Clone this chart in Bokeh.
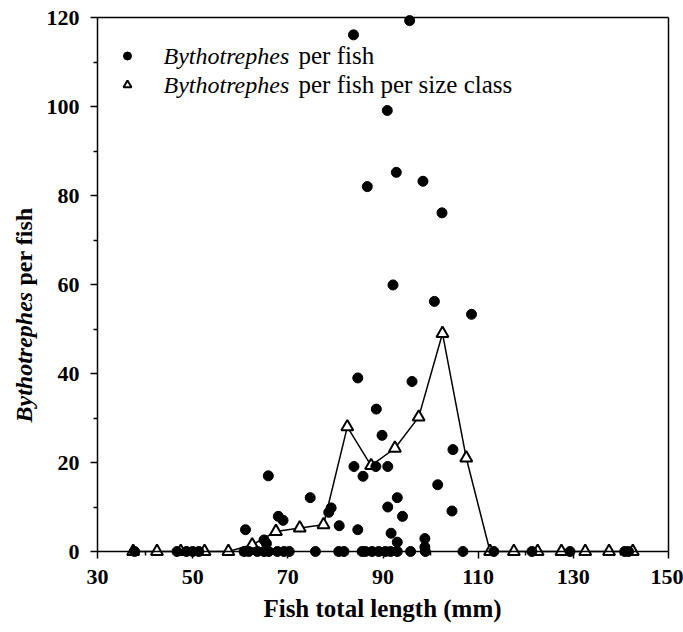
import math
from bokeh.plotting import figure
from bokeh.models import (Range1d, LinearAxis, FixedTicker, Label,
                          Legend, LegendItem)
from bokeh.core.properties import value
from bokeh.embed import file_html
from bokeh.resources import INLINE

# ---- data ----
fish_length_mm = [
    83.8, 95.6, 90.9, 92.8, 86.7, 98.4, 102.4, 92.1, 100.8, 108.6,
    84.7, 96.1, 88.6, 89.8, 104.7, 83.9, 88.5, 91.0, 85.8, 101.5,
    65.9, 61.1, 68.0, 69.0, 65.0, 65.5, 74.7, 79.1, 78.6, 80.8,
    93.0, 91.0, 94.1, 84.7, 91.7, 93.0, 98.8, 98.8, 104.5,
    37.8, 46.7, 48.7, 50.0, 51.3, 60.8, 61.8, 63.6, 65.0, 66.0,
    67.8, 69.2, 70.3, 75.8, 80.7, 81.8, 85.6, 86.3, 87.7, 89.1,
    90.5, 91.6, 93.0, 95.8, 98.9, 106.8, 113.3, 121.3, 129.3, 140.8, 141.6,
]
bytho_per_fish = [
    116.1, 119.3, 99.1, 85.2, 82.0, 83.2, 76.1, 59.9, 56.2, 53.3,
    39.0, 38.2, 32.0, 26.1, 22.9, 19.1, 19.1, 19.1, 16.9, 15.0,
    17.0, 4.9, 7.9, 7.0, 2.6, 1.8, 12.1, 9.8, 8.8, 5.8,
    12.1, 10.0, 7.9, 4.9, 4.1, 2.1, 2.9, 1.0, 9.1,
    0, 0, 0, 0, 0, 0, 0, 0, 0, 0,
    0, 0, 0, 0, 0, 0, 0, 0, 0, 0,
    0, 0, 0, 0, 0, 0, 0, 0, 0, 0, 0,
]
size_class_mm = [37.5, 42.5, 47.5, 52.5, 57.5, 62.5, 67.5, 72.5, 77.5, 82.5,
                 87.5, 92.5, 97.5, 102.5, 107.5, 112.5, 117.5, 122.5, 127.5,
                 132.5, 137.5, 142.5]
bytho_per_class = [0, 0, 0, 0, 0, 1.5, 4.5, 5.3, 6.0, 28.0,
                   19.3, 23.2, 30.2, 49.0, 21.0, 0, 0, 0, 0,
                   0, 0, 0]
x_ticks = [30, 50, 70, 90, 110, 130, 150]
x_minor_ticks = [40, 60, 80, 100, 120, 140]
y_ticks = [0, 20, 40, 60, 80, 100, 120]
y_minor_ticks = [10, 30, 50, 70, 90, 110]

FONT = "Liberation Serif"
W, H = 683, 632
# axis box position on the canvas (pixels)
PX_LEFT, PX_RIGHT, PY_TOP, PY_BOTTOM = 97.0, 668.0, 17.0, 551.0
XMIN, XMAX, YMIN, YMAX = 30.0, 150.0, 0.0, 120.0
KX = (PX_RIGHT - PX_LEFT) / (XMAX - XMIN)
KY = (PY_BOTTOM - PY_TOP) / (YMAX - YMIN)


def xd(px):
    return XMIN + (px - PX_LEFT) / KX


def yd(py):
    return YMIN + (PY_BOTTOM - py) / KY


p = figure(width=W, height=H, output_backend="svg", toolbar_location=None,
           x_range=Range1d(xd(0), xd(W)), y_range=Range1d(yd(H), yd(0)),
           min_border_left=0, min_border_right=0,
           min_border_top=0, min_border_bottom=0,
           x_axis_location=None, y_axis_location=None)
p.title.visible = False
p.grid.visible = False
p.outline_line_color = None
p.background_fill_color = "white"
p.border_fill_color = "white"


def style_axis(ax):
    ax.axis_line_color = "black"
    ax.axis_line_width = 1.5
    ax.major_tick_line_color = "black"
    ax.minor_tick_line_color = "black"
    ax.major_tick_line_width = 1.5
    ax.minor_tick_line_width = 1.5
    ax.major_tick_in = 0
    ax.major_tick_out = 7
    ax.minor_tick_in = 0
    ax.minor_tick_out = 4
    ax.major_label_text_font = FONT
    ax.major_label_text_font_style = "bold"
    ax.major_label_text_font_size = "22px"
    ax.major_label_text_color = "black"


xaxis = LinearAxis(ticker=FixedTicker(ticks=x_ticks, minor_ticks=x_minor_ticks),
                   fixed_location=YMIN, bounds=(XMIN, XMAX))
style_axis(xaxis)
xaxis.major_label_standoff = 11
p.add_layout(xaxis, "below")

yaxis = LinearAxis(ticker=FixedTicker(ticks=y_ticks, minor_ticks=y_minor_ticks),
                   fixed_location=XMIN, bounds=(YMIN, YMAX))
style_axis(yaxis)
yaxis.major_label_standoff = 11
p.add_layout(yaxis, "left")

raxis = LinearAxis(ticker=FixedTicker(ticks=[]), fixed_location=XMAX,
                   bounds=(YMIN, YMAX))
style_axis(raxis)
raxis.major_tick_out = 0
raxis.minor_tick_out = 0
p.add_layout(raxis, "right")

taxis = LinearAxis(ticker=FixedTicker(ticks=[]), fixed_location=YMAX,
                   bounds=(XMIN, XMAX))
style_axis(taxis)
taxis.major_tick_out = 0
taxis.minor_tick_out = 0
p.add_layout(taxis, "above")

# ---- glyphs ----
p.line(size_class_mm, bytho_per_class, line_color="black", line_width=1.5)
tri = p.scatter(size_class_mm, bytho_per_class, marker="triangle", size=12,
                fill_color="white", line_color="black", line_width=2)
dots = p.scatter(fish_length_mm, bytho_per_fish, marker="circle", size=10,
                 fill_color="black", line_color="black")

# ---- legend (markers) ----
leg = Legend(items=[LegendItem(label=value(" "), renderers=[dots]),
                    LegendItem(label=value(" "), renderers=[tri])],
             location=(117, H - 40.5 - 58), padding=0, margin=0, spacing=0,
             glyph_width=20, glyph_height=29, label_height=29, label_width=0,
             label_standoff=0, border_line_color=None, background_fill_alpha=0)
p.add_layout(leg)


# ---- texts ----
def lab(text, px, py, style="normal", size="24px", angle=0, align="left"):
    p.add_layout(Label(x=xd(px), y=yd(py), text=text, angle=angle,
                       text_font=FONT, text_font_style=style,
                       text_font_size=size, text_color="black",
                       text_align=align, text_baseline="middle"))


lab("Bythotrephes", 163, 55, "italic")
lab("per fish", 298, 55, size="25px")
lab("Bythotrephes", 163, 84, "italic")
lab("per fish per size class", 298, 84, size="25px")

lab("Fish total length (mm)", 382, 608, "bold", size="25px", align="center")
lab("Bythotrephes", 23, 422, "bold italic", angle=math.pi / 2)
lab("per fish", 23, 285, "bold", angle=math.pi / 2)

open("out.html", "w").write(file_html(p, INLINE))
